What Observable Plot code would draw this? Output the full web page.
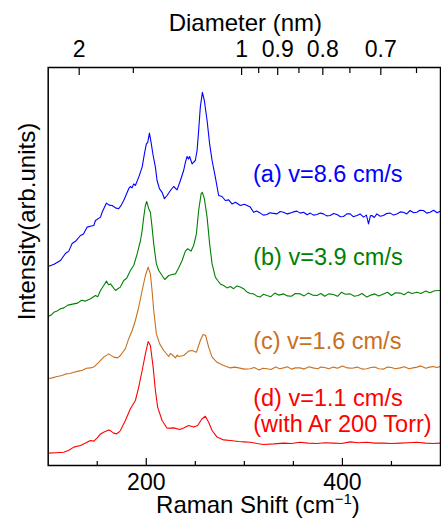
<!DOCTYPE html>
<html><head><meta charset="utf-8">
<script src="https://cdn.jsdelivr.net/npm/d3@7"></script>
<script src="https://cdn.jsdelivr.net/npm/@observablehq/plot@0.6"></script>
<style>body{margin:0;background:#fff}</style>
</head><body><div id="chart"></div>
<script>
// Raman shift (cm^-1), intensity (arb. units, offset-stacked)
const spectrumA = [[100,49.75],[106,50.3],[112.5,51.25],[117.6,53],[121,53.6],[124.4,55.5],[128.5,56.2],[132.9,57.5],[136,57.9],[139.7,59.6],[143,59.8],[146.5,60],[148.2,61.25],[153.3,62.1],[155,63.3],[159.4,65.6],[162,65.1],[165.2,65],[168.5,64.4],[171.9,64.2],[174.5,65.1],[177,66.25],[182.1,69.2],[183.8,69.75],[185.5,69.4],[187.2,70.4],[188.9,70],[192.3,72.1],[195.8,74.6],[198.1,77.9],[200.1,80.4],[201.5,80.8],[203.2,83.1],[204.9,80.8],[207,77.5],[209.3,74.6],[211,71.25],[213.4,69.2],[216.1,68.3],[218.5,66.7],[221.2,67.5],[224.6,68.75],[227.9,69.75],[231.4,68.9],[234.8,71.25],[238.1,73.75],[239.9,75.8],[241.6,77.25],[243,76.6],[244.2,77.25],[246.7,75.4],[250,76.25],[251.8,78.75],[253.4,83.75],[255.1,89.6],[257.2,93.3],[259.2,91.25],[262,86.25],[264.6,80.4],[267.1,76.25],[270.4,72.1],[273.8,67.5],[277.2,67.25],[280.6,66.25],[284,66.4],[287.4,65.4],[291,65.8],[295.9,65],[300,65.3],[306.1,64.6],[309.4,63.3],[312.5,63.6],[316.2,63.1],[319.5,62.6],[323.1,62.75],[326,63.2],[328.2,63.1],[333.3,62.9],[336.5,63.5],[340,63.3],[343.5,62.9],[346.8,63.1],[350,63.4],[353.6,63.6],[357,63.1],[360.4,63.3],[364,62.7],[367.2,63.1],[370.5,62.6],[374,62.75],[377.5,63.1],[380.7,62.9],[384,62.4],[387.6,62.5],[391,63],[394.4,62.75],[398,62.2],[401.1,62.25],[404.5,62.9],[407.9,62.9],[411,62.2],[414.8,62.5],[418,62.9],[421.5,62.1],[424.5,62.6],[426.6,60.4],[428.5,62.4],[430,62.5],[432.5,62.0],[435.1,62.9],[438.5,62.3],[441.9,62.5],[445,63.0],[448.7,63.1],[452,62.6],[455.5,62.9],[459,63.4],[462.2,63.3],[465.5,62.9],[469,63.75],[472.5,63.2],[475.9,63.3],[479,63.8],[482.6,63.75],[486,63.1],[489.4,63.3],[493,63.8],[496.5,63.2],[500,63.6]];
const spectrumB = [[100,37.25],[103,37.6],[105.7,38.3],[109,38.6],[112.5,39.2],[116,39.4],[120,40.1],[126.1,40.4],[130,40.6],[134,41.3],[138,41.1],[143.1,41.7],[148.2,42.5],[150.5,42.2],[153.3,43.75],[156.6,45],[159.4,46.1],[161.5,45.2],[163.5,45.4],[168.6,43.75],[171,44.2],[173.6,44.6],[177,46.25],[180,46.8],[182.1,47.9],[183.8,48.75],[187.2,50],[190.7,52.9],[194.1,56.25],[195.8,58.75],[197.4,62.1],[199.1,65],[200.4,66],[202.5,64.2],[204.2,63.3],[205.9,59.6],[207.6,55.4],[210.3,50.4],[212.7,48.75],[216.1,47.5],[218.8,46.5],[222.9,47.5],[226.3,47.75],[229.7,47.9],[233,49.4],[236.5,51.25],[239.9,53.6],[242.2,54.2],[245.7,53.6],[248.3,55],[251.1,57.9],[253.4,63.75],[255.9,67.9],[257.2,68.3],[259.2,66.7],[262,62.1],[264.6,55.4],[267.1,50.4],[270.4,47.1],[272.8,46.25],[275.5,45.4],[278.9,45],[282.3,44.4],[285.7,44.75],[289.1,44.2],[292.5,44.9],[295.9,44.6],[299.2,44.2],[302.5,43.4],[306,43.0],[309.4,42.9],[312.5,42.4],[316,42.1],[319.5,42.8],[323.1,42.5],[327,42.2],[331,43.1],[335,42.6],[340,42.9],[344,42.4],[348,42.3],[352,43.0],[357,42.9],[361,42.4],[365,43.1],[369.5,42.6],[374,42.5],[378,43.0],[382,42.3],[386,42.9],[390.9,42.75],[395,42.3],[399,43.3],[403,42.8],[407.9,42.9],[412,42.3],[416,42.5],[420,43.0],[424.9,42.1],[429,42.6],[433,42.9],[437,42.4],[441.9,42.9],[446,43.3],[450,42.5],[454,43.2],[458.9,43.1],[463,42.7],[467,43.4],[471,43.0],[475.9,43.3],[480,43.0],[485,43.6],[489,43.2],[494,43.7],[500,43.75]];
const spectrumC = [[100,21.7],[104,21.9],[109.2,22.25],[114,22.5],[118,22.9],[122,23.0],[126.1,23.3],[131,23.6],[135,23.8],[139,24.3],[143.1,24.4],[147,24.7],[151.5,25.8],[156.6,27.1],[161.7,27.9],[166.8,27.1],[170.9,26.9],[173.6,27.5],[178.7,29.2],[182.1,31.7],[185.6,33.75],[188.9,36.25],[192.3,39.6],[195.8,43.75],[199.1,47.5],[201.9,49.6],[204.2,47.9],[205.9,43.75],[207.6,38.75],[210.3,32.9],[213.7,30.4],[217.8,28.75],[222.9,27.25],[224.5,28.0],[226.3,27.75],[229.7,26.9],[231.5,27.6],[233,27.25],[238.1,27.5],[243.2,28.6],[246.7,28.75],[251.1,28.3],[255.1,31.25],[257.9,32.75],[260.5,32.5],[263.6,29.6],[267.1,27.1],[272.2,25.8],[278.9,25],[285.7,24.4],[290,24.6],[294.2,24.4],[300,24.1],[306.1,24.2],[310,24.5],[315,23.9],[319,24.3],[323.1,24.2],[327,24.0],[332,24.6],[336,24.2],[340,24.4],[344,24.7],[348,24.1],[352,24.4],[357,24.4],[361,24.1],[366,24.7],[370,24.4],[375,24.2],[378,24.6],[382,24.5],[386,24.2],[390.9,24.6],[395,24.3],[400,24.9],[405,24.4],[410,24.3],[415,24.6],[420,24.1],[424.9,24.2],[429,24.5],[433,24.6],[437,24.2],[442,24.1],[446,24.6],[450,24.5],[454,24.2],[458.9,24.4],[463,24.7],[468,24.2],[472,24.4],[476,24.6],[480,24.9],[485,24.3],[489,24.6],[492.8,24.75],[496,24.5],[500,24.75]];
const spectrumD = [[100,3.1],[108,3.2],[115.9,3.3],[121,3.8],[126.1,4.6],[132.9,5],[138,5.6],[143.1,6.25],[146.5,6.1],[150,6.9],[153.3,7.9],[157,8.4],[161.7,8.9],[164,8.6],[166.8,8.1],[169.6,7.9],[171.9,8.3],[173.6,8.75],[178.7,11.25],[183.8,14.2],[188.9,16.25],[192.3,19.6],[195.8,23.75],[199.1,27.9],[201.9,31],[204.2,30],[207,24.6],[209.3,18.75],[211.6,14.6],[216.1,11.25],[221.2,9.3],[227.9,9.4],[234.1,9],[238.1,9.4],[243.2,10],[248.3,9.6],[252.4,10],[256.9,11.7],[260.2,12.3],[263.6,10.8],[267.1,8.75],[272.2,7.1],[278.9,6.4],[285.7,6.25],[294.2,6],[300,5.9],[306.1,5.8],[313,5.5],[319.6,5.25],[330,5.4],[340,5.6],[348,5.5],[357,5.8],[365,5.6],[374,5.5],[382,5.7],[390.9,5.6],[399,5.5],[407.9,5.9],[416,5.7],[424.9,5.8],[433,5.6],[441.9,5.6],[450,5.5],[458.9,5.6],[467,5.7],[475.9,5.8],[485,5.6],[492,5.5],[500,5.6]];

const shiftMajorTicks = [200, 400];
const shiftMinorTicks = [150, 250, 300, 350, 450];
const diameterMajorTicks = [2, 1, 0.9, 0.8, 0.7];
const diameterMinorTicks = [1.5, 0.95, 0.85, 0.75, 0.65];
const seriesLabels = ["(a) v=8.6 cm/s", "(b) v=3.9 cm/s", "(c) v=1.6 cm/s", "(d) v=1.1 cm/s\n(with Ar 200 Torr)"];
const seriesColors = ["#0000ff", "#008000", "#c8701e", "#ff0000"];

// diameter (nm) -> Raman shift (cm^-1) relation of the top axis
const diameterToShift = d => 331.2 / d - 34;

const font = "'Liberation Sans', Arial, Helvetica, sans-serif";
const spectra = [spectrumA, spectrumB, spectrumC, spectrumD];
const labelPos = [[308.8, 73], [309, 52.2], [309, 31.2], [309, 13.8]];

const chart = Plot.plot({
  width: 441, height: 524,
  marginLeft: 47.7, marginRight: 1, marginTop: 67, marginBottom: 59,
  x: {domain: [100, 500], axis: null},
  y: {domain: [0, 99.5], axis: null},
  style: {fontFamily: font, background: "white", color: "black"},
  marks: [
    ...spectra.map((s, i) => Plot.line(s, {x: d => d[0], y: d => d[1], stroke: seriesColors[i], strokeWidth: 1.1, clip: true})),
    Plot.frame({stroke: "black", strokeWidth: 1.5}),
    Plot.tickX(shiftMajorTicks, {x: d => d, insetTop: 391, stroke: "black", strokeWidth: 1.2}),
    Plot.tickX(shiftMinorTicks, {x: d => d, insetTop: 394, stroke: "black", strokeWidth: 1.2}),
    Plot.tickX(diameterMajorTicks, {x: diameterToShift, insetBottom: 390, stroke: "black", strokeWidth: 1.2}),
    Plot.tickX(diameterMinorTicks, {x: diameterToShift, insetBottom: 392, stroke: "black", strokeWidth: 1.2}),
    Plot.text(shiftMajorTicks, {x: d => d, text: d => String(d), frameAnchor: "bottom", dy: 17, fontSize: 23, lineAnchor: "middle", fill: "black"}),
    Plot.text(diameterMajorTicks, {x: diameterToShift, text: d => String(d), frameAnchor: "top", dy: -18, fontSize: 23, lineAnchor: "middle", fill: "black"}),
    Plot.text(["Diameter (nm)"], {frameAnchor: "top", dx: 1, dy: -44, fontSize: 24, lineAnchor: "middle", fill: "black"}),
    Plot.text(["Raman Shift (cm−1)"], {frameAnchor: "bottom", dx: 13.6, dy: 40, fontSize: 24, lineAnchor: "middle", fill: "black"}),
    Plot.text(["Intensity(arb.units)"], {x: () => 78.9, y: () => 61, rotate: -90, fontSize: 24, lineAnchor: "middle", fill: "black"}),
    ...seriesLabels.map((t, i) => Plot.text([t], {x: () => labelPos[i][0], y: () => labelPos[i][1], text: d => d, textAnchor: "start", lineAnchor: "middle", fontSize: 23.5, lineHeight: 1.12, fill: seriesColors[i]}))
  ]
});
document.getElementById("chart").appendChild(chart);

// superscript for cm^-1
d3.select(chart).selectAll("text").each(function() {
  if (this.textContent === "Raman Shift (cm−1)") {
    this.innerHTML = 'Raman Shift (cm<tspan dy="-9" font-size="15">−1</tspan><tspan dy="9">)</tspan>';
  }
});
</script>
</body></html>
